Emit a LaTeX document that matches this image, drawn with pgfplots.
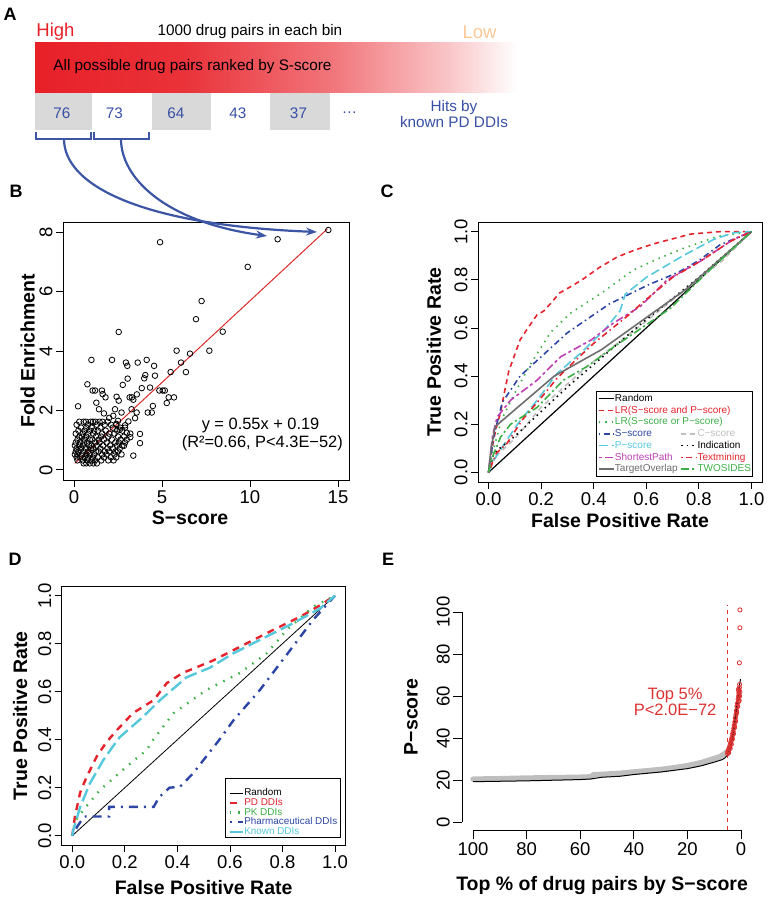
\documentclass[border=0pt]{standalone}
\usepackage{fontspec}
\setmainfont{Liberation Sans}
\usepackage{pgfplots}
\pgfplotsset{compat=1.18}
\usetikzlibrary{arrows.meta}

\definecolor{barred}{RGB}{232,32,40}
\definecolor{lowc}{RGB}{250,200,150}
\definecolor{boxgrey}{RGB}{217,217,217}
\definecolor{numblue}{RGB}{55,80,165}
\definecolor{arrowblue}{RGB}{60,85,165}
\definecolor{linered}{RGB}{220,40,40}
\definecolor{cred}{RGB}{230,35,45}
\definecolor{cgreen}{RGB}{60,175,70}
\definecolor{cblue}{RGB}{45,70,165}
\definecolor{ccyan}{RGB}{85,200,220}
\definecolor{cmag}{RGB}{190,65,180}
\definecolor{cgrey}{RGB}{110,110,110}
\definecolor{clgrey}{RGB}{190,190,190}
\definecolor{ered}{RGB}{220,50,50}

% the path is mapped onto 25bp..75bp of the shading
\pgfdeclarehorizontalshading{redfade}{100bp}{color(0bp)=(barred); color(25bp)=(barred); color(40bp)=(barred!92!white); color(55bp)=(barred!62!white); color(67bp)=(barred!26!white); color(74bp)=(white); color(100bp)=(white)}

\pgfplotsset{
  rstyle/.style={
    scale only axis,
    anchor=south west,
    tick align=outside,
    major tick length=7pt,
    tick style={black,line width=0.8pt},
    axis line style={line width=0.8pt},
    tick label style={font=\fontsize{18.5}{18.5}\selectfont},
    every axis label/.append style={font=\bfseries\fontsize{19.5}{19.5}\selectfont},
    /pgf/number format/assume math mode=true,
    yticklabel style={rotate=90,anchor=south},
  },
  rocstyle/.style={
    xmin=-0.04,xmax=1.04,ymin=-0.04,ymax=1.04,
    xtick={0,0.2,0.4,0.6,0.8,1}, ytick={0,0.2,0.4,0.6,0.8,1},
    /pgf/number format/fixed, /pgf/number format/fixed zerofill,
    /pgf/number format/precision=1,
    xlabel={False Positive Rate}, ylabel={True Positive Rate},
  },
}

\begin{document}
\begin{tikzpicture}
\path[use as bounding box] (0pt,0pt) rectangle (768pt,900pt);

% ---------------- B
\begin{axis}[rstyle, tick pos=left, at={(63pt,420pt)}, width=286pt, height=258pt,
  xmin=-0.625, xmax=15.625, ymin=-0.34, ymax=8.34,
  xtick={0,5,10,15}, ytick={0,2,4,6,8},
  xlabel={S−score}, ylabel={Fold Enrichment},
  xlabel style={at={(axis description cs:0.444,-0.147)},anchor=center},
  ylabel style={at={(axis description cs:-0.124,0.5)},anchor=center}]
\addplot[only marks, mark=o, mark size=2.8pt, mark options={line width=0.8pt}] coordinates {
(4.89,7.66)(11.57,7.76)(14.45,8.07)(9.87,6.83)(7.25,5.68)(6.93,5.07)(8.45,4.65)(2.54,4.64)
(5.83,4.01)(7.69,4.01)(6.59,3.91)(0.99,3.70)(2.16,3.70)(2.95,3.61)(3.03,3.50)(3.62,3.61)
(4.13,3.70)(4.55,3.50)(6.08,3.61)(6.36,3.29)(5.49,3.29)(4.05,3.19)(4.60,3.17)(3.05,3.07)
(3.99,3.08)(2.77,2.86)(0.76,2.88)(1.06,2.67)(1.59,2.67)(1.20,2.67)(3.85,2.75)(4.32,2.77)
(4.85,2.67)(5.04,2.67)(5.16,2.67)(1.63,2.55)(2.42,2.46)(3.16,2.44)(3.29,2.44)(3.57,2.54)
(2.54,2.33)(3.37,2.36)(1.79,2.44)(1.27,2.26)(1.42,2.04)(0.23,2.14)(5.38,2.44)(5.68,2.44)
(5.27,2.25)(4.48,2.15)(4.19,1.93)(4.42,1.93)(2.33,2.04)(3.27,2.04)(3.56,1.93)(2.70,1.93)
(2.23,1.82)(3.47,1.74)(3.09,1.63)(3.75,1.21)(3.75,0.90)(3.37,0.48)(2.84,0.81)
(2.9,1.5)(2.6,1.35)(3.0,1.25)(3.2,1.1)(2.4,1.55)(2.0,1.75)(1.7,1.9)(2.5,1.65)
(0.30,1.62)(0.55,1.62)(0.68,1.62)(0.95,1.62)(1.08,1.62)(1.22,1.62)(1.45,1.62)(1.62,1.62)(1.92,1.62)
(0.15,1.52)(0.80,1.52)(1.30,1.52)(1.75,1.52)(2.10,1.52)(2.40,1.52)
(0.40,1.42)(0.70,1.42)(1.00,1.42)(1.50,1.42)(2.20,1.42)(2.62,1.42)(2.90,1.42)
(0.25,1.32)(0.60,1.32)(0.90,1.32)(1.15,1.32)(1.35,1.32)(1.80,1.32)(2.45,1.32)(2.75,1.32)
(0.10,1.22)(0.50,1.22)(0.80,1.22)(1.10,1.22)(1.60,1.22)(2.00,1.22)(2.30,1.22)(3.20,1.22)
(0.30,1.12)(0.45,1.12)(0.70,1.12)(1.25,1.12)(1.55,1.12)(1.95,1.12)(2.50,1.12)(2.85,1.12)
(0.20,1.02)(0.60,1.02)(0.90,1.02)(1.05,1.02)(1.40,1.02)(1.70,1.02)(2.15,1.02)(2.65,1.02)(3.00,1.02)
(0.10,0.92)(0.35,0.92)(0.55,0.92)(0.75,0.92)(1.20,0.92)(1.45,0.92)(1.85,0.92)(2.35,0.92)(2.55,0.92)(2.90,0.92)
(0.05,0.82)(0.30,0.82)(0.50,0.82)(0.85,0.82)(1.00,0.82)(1.30,0.82)(1.65,0.82)(2.05,0.82)(2.45,0.82)(2.75,0.82)
(0.15,0.72)(0.40,0.72)(0.65,0.72)(0.95,0.72)(1.10,0.72)(1.50,0.72)(1.90,0.72)(2.20,0.72)(2.60,0.72)
(0.10,0.62)(0.25,0.62)(0.55,0.62)(0.80,0.62)(1.25,0.62)(1.40,0.62)(1.75,0.62)(2.00,0.62)(2.35,0.62)(2.50,0.62)
(0.05,0.52)(0.20,0.52)(0.45,0.52)(0.70,0.52)(0.90,0.52)(1.15,0.52)(1.60,0.52)(1.85,0.52)(2.30,0.52)(2.70,0.52)
(0.15,0.42)(0.35,0.42)(0.60,0.42)(0.80,0.42)(1.05,0.42)(1.35,0.42)(1.70,0.42)(2.10,0.42)(2.40,0.42)
(0.20,0.32)(0.50,0.32)(0.75,0.32)(1.00,0.32)(1.20,0.32)(1.55,0.32)(1.95,0.32)(2.25,0.32)
(0.55,0.22)(0.70,0.22)(0.90,0.22)(1.10,0.22)(1.30,0.22)
};
\addplot[linered, line width=1pt] coordinates {(0.05,0.22)(14.4,8.11)};
\node[font=\fontsize{16.4}{16.4}\selectfont] at (axis cs:10.6,1.48) {y = 0.55x + 0.19};
\node[font=\fontsize{16.4}{16.4}\selectfont] at (axis cs:10.7,0.91) {(R²=0.66, P<4.3E−52)};
\end{axis}

% ---------------- C
\begin{axis}[rstyle, rocstyle, tick pos=left, at={(478pt,418pt)}, width=284pt, height=260pt,
  xlabel style={at={(axis description cs:0.5,-0.15)},anchor=center},
  ylabel style={at={(axis description cs:-0.155,0.5)},anchor=center},
  legend image code/.code={\draw[#1] (0pt,0pt) -- (15pt,0pt);},
  legend columns=2, legend cell align=left,
  legend style={at={(0.968,0.02)}, anchor=south east, draw=black, line width=0.8pt,
    font=\fontsize{10}{10}\selectfont, inner xsep=1pt, inner ysep=1.5pt,
    nodes={inner sep=0.6pt, text height=8pt, text depth=2.5pt},
    /tikz/every even column/.append style={column sep=2pt}}]
\addplot[black, line width=1.2pt] coordinates {(0,0)(1,1)};
\addlegendentry{Random}
\addlegendimage{empty legend}\addlegendentry{}
\addplot[cred, line width=1.6pt, dash pattern=on 5pt off 4pt] coordinates {(0,0)(0.01,0.08)(0.027,0.175)(0.046,0.25)(0.06,0.33)(0.077,0.42)(0.1,0.49)(0.12,0.55)(0.15,0.6)(0.185,0.655)(0.21,0.67)(0.235,0.7)(0.27,0.745)(0.31,0.77)(0.356,0.8)(0.42,0.85)(0.49,0.895)(0.56,0.925)(0.63,0.95)(0.7,0.97)(0.77,0.99)(0.88,1)(1,1)};
\addlegendentry{\makebox[0pt][l]{\textcolor{cred}{LR(S−score and P−score)}}}
\addlegendimage{empty legend}\addlegendentry{}
\addplot[cgreen, line width=1.6pt, dash pattern=on 1.5pt off 5pt] coordinates {(0,0)(0.02,0.1)(0.05,0.22)(0.1,0.33)(0.16,0.45)(0.235,0.58)(0.31,0.66)(0.43,0.745)(0.55,0.84)(0.65,0.89)(0.74,0.93)(0.87,0.98)(1,1)};
\addlegendentry{\makebox[0pt][l]{\textcolor{cgreen}{LR(S−score or P−score)}}}
\addlegendimage{empty legend}\addlegendentry{}
\addplot[cblue, line width=1.6pt, dash pattern=on 1.5pt off 3.5pt on 6pt off 3.5pt] coordinates {(0,0)(0.02,0.15)(0.052,0.29)(0.12,0.4)(0.2,0.48)(0.3,0.58)(0.38,0.64)(0.46,0.7)(0.61,0.78)(0.72,0.83)(0.8,0.88)(0.88,0.945)(1,1)};
\addlegendentry{\textcolor{cblue}{S−score}}
\addplot[clgrey, line width=1.6pt, dash pattern=on 5pt off 4pt] coordinates {(0,0)(0.02,0.06)(0.1,0.14)(0.2,0.27)(0.375,0.44)(0.59,0.62)(0.75,0.76)(0.89,0.88)(1,1)};
\addlegendentry{\textcolor{clgrey}{C−score}}
\addplot[ccyan, line width=1.6pt, dash pattern=on 9pt off 4pt] coordinates {(0,0)(0.02,0.05)(0.052,0.105)(0.11,0.2)(0.185,0.3)(0.26,0.41)(0.35,0.495)(0.44,0.59)(0.5,0.67)(0.52,0.74)(0.6,0.81)(0.74,0.9)(0.855,0.967)(0.93,0.995)(1,1)};
\addlegendentry{\textcolor{ccyan}{P−score}}
\addplot[black, line width=1.6pt, dash pattern=on 1.5pt off 4pt] coordinates {(0,0)(0.02,0.08)(0.1,0.15)(0.3,0.355)(0.59,0.626)(0.8,0.81)(1,1)};
\addlegendentry{Indication}
\addplot[cmag, line width=1.6pt, dash pattern=on 3pt off 3pt on 8pt off 3pt] coordinates {(0,0)(0.015,0.15)(0.033,0.23)(0.084,0.3)(0.185,0.383)(0.274,0.48)(0.39,0.55)(0.475,0.62)(0.578,0.69)(0.68,0.8)(0.81,0.88)(0.93,0.967)(1,1)};
\addlegendentry{\textcolor{cmag}{ShortestPath}}
\addplot[cred, line width=1.6pt, dash pattern=on 1.5pt off 3.5pt on 6pt off 3.5pt] coordinates {(0,0)(0.03,0.08)(0.07,0.12)(0.13,0.22)(0.2,0.31)(0.26,0.39)(0.34,0.475)(0.4,0.536)(0.54,0.66)(0.58,0.7)(0.7,0.81)(0.81,0.88)(0.92,0.96)(1,1)};
\addlegendentry{\textcolor{cred}{Textmining}}
\addplot[cgrey, line width=1.6pt] coordinates {(0,0)(0.01,0.1)(0.025,0.19)(0.25,0.4)(0.43,0.51)(0.75,0.76)(1,1)};
\addlegendentry{\textcolor{cgrey}{TargetOverlap}}
\addplot[cgreen, line width=1.6pt, dash pattern=on 8pt off 3pt on 2pt off 3pt] coordinates {(0,0)(0.01,0.05)(0.046,0.147)(0.084,0.2)(0.185,0.27)(0.285,0.383)(0.375,0.44)(0.475,0.52)(0.69,0.68)(0.85,0.85)(1,1)};
\addlegendentry{\textcolor{cgreen}{TWOSIDES}}
\end{axis}

% ---------------- D
\begin{axis}[rstyle, rocstyle, tick pos=left, at={(61.8pt,54.7pt)}, width=283.7pt, height=259.2pt,
  xlabel style={at={(axis description cs:0.5,-0.163)},anchor=center},
  ylabel style={at={(axis description cs:-0.147,0.5)},anchor=center},
  legend image code/.code={\draw[#1] (0pt,0pt) -- (13pt,0pt);},
  legend cell align=left,
  legend style={at={(0.984,0.028)}, anchor=south east, draw=black, line width=0.8pt,
    font=\fontsize{9.9}{9.9}\selectfont, inner xsep=3pt, inner ysep=1pt,
    nodes={inner sep=0.3pt, text height=7pt, text depth=2pt}}]
\addlegendimage{empty legend}\addlegendentry{}
\addplot[black, line width=0.8pt] coordinates {(0,0)(1,1)};
\addlegendentry{Random}
\addplot[cred, line width=2.4pt, dash pattern=on 7pt off 6pt] coordinates {(0,0)(0.01,0.08)(0.03,0.18)(0.055,0.246)(0.093,0.33)(0.13,0.39)(0.17,0.44)(0.23,0.51)(0.31,0.565)(0.36,0.636)(0.42,0.678)(0.536,0.73)(0.638,0.787)(0.764,0.857)(0.867,0.912)(0.943,0.96)(1,1)};
\addlegendentry{\textcolor{cred}{PD DDIs}}
\addplot[cgreen, line width=2.4pt, dash pattern=on 1.5pt off 7pt] coordinates {(0,0)(0.01,0.06)(0.042,0.107)(0.105,0.19)(0.207,0.288)(0.283,0.357)(0.308,0.4)(0.385,0.51)(0.51,0.607)(0.638,0.678)(0.74,0.76)(0.816,0.857)(0.917,0.954)(1,1)};
\addlegendentry{\textcolor{cgreen}{PK DDIs}}
\addplot[cblue, line width=2.4pt, dash pattern=on 2pt off 6pt on 9pt off 6pt] coordinates {(0,0)(0.02,0.04)(0.045,0.08)(0.14,0.08)(0.14,0.12)(0.31,0.12)(0.33,0.16)(0.37,0.2)(0.41,0.204)(0.46,0.26)(0.51,0.33)(0.56,0.4)(0.613,0.48)(0.714,0.607)(0.83,0.774)(0.917,0.9)(1,1)};
\addlegendentry{\textcolor{cblue}{Pharmaceutical DDIs}}
\addplot[ccyan, line width=2.4pt, dash pattern=on 13pt off 5pt] coordinates {(0,0)(0.004,0.024)(0.03,0.12)(0.067,0.218)(0.118,0.315)(0.16,0.38)(0.18,0.41)(0.27,0.496)(0.334,0.565)(0.435,0.66)(0.524,0.7)(0.613,0.76)(0.74,0.83)(0.84,0.885)(0.943,0.947)(1,1)};
\addlegendentry{\textcolor{ccyan}{Known DDIs}}
\end{axis}

% ---------------- E
\begin{axis}[rstyle, at={(462.3pt,69.6pt)}, width=289.4pt, height=226.8pt,
  xmin=-104, xmax=4, ymin=-4, ymax=104,
  xtick={-100,-80,-60,-40,-20,0}, xticklabels={100,80,60,40,20,0},
  ytick={0,20,40,60,80,100},
  axis x line*=bottom, axis y line*=left, axis line style={draw=none},
  major tick length=9pt, clip=false,
  xlabel={Top \% of drug pairs by S−score}, ylabel={P−score},
  xlabel style={at={(axis description cs:0.483,-0.243)},anchor=center},
  ylabel style={at={(axis description cs:-0.177,0.5)},anchor=center}]
\draw[line width=0.8pt] (axis cs:-100,-4) -- (axis cs:0,-4);
\draw[line width=0.8pt] (axis cs:-104,0) -- (axis cs:-104,100);
\addplot[clgrey, line width=5.5pt, line cap=round] coordinates {(-100,20.4)(-90,20.6)(-80,20.9)(-70,21.1)(-60,21.3)(-56,21.5)(-55,22.5)(-50,22.8)(-45,23.2)(-40,23.8)(-35,24.4)(-30,25.0)(-25,25.8)(-20,26.8)(-15,28.2)(-10,30.2)(-8,31.0)(-7,31.8)(-6,32.6)(-5.2,33.5)};
\addplot[ered, line width=1pt, dash pattern=on 4pt off 4pt] coordinates {(-5,-4)(-5,103.5)};
\addplot[ered, line width=3pt] coordinates {(-5,32.5)(-4,35.5)(-3,42)(-2,50)(-1.5,54.5)(-1,59.5)(-0.5,64)};
\addplot[only marks, mark=o, mark size=2.1pt, ered, mark options={line width=0.8pt}] coordinates {
(-5,32.5)(-4.9,33.5)(-4.7,34)(-4.5,35)(-4.3,35.5)(-4.1,36.5)(-3.9,37.5)(-3.7,38.5)(-3.5,39.5)(-3.3,40.5)
(-3.1,42)(-2.9,43)(-2.7,44.5)(-2.5,46)(-2.3,47.5)(-2.1,49.5)(-1.9,51)(-1.7,53)(-1.5,55)(-1.3,56.5)
(-1.1,58.5)(-0.9,60)(-0.8,61.5)(-0.7,62.5)(-0.6,64)(-0.5,65.5)(-4.6,33)(-4,35)(-3.6,37)(-3.2,39.5)
(-2.8,42)(-2.4,45)(-2,48)(-1.6,52)(-1.2,55)(-0.8,57.5)(-0.5,60)(-1,63)(-0.7,58)(-0.4,62)
(-0.6,75.8)(-0.4,92.5)(-0.4,101)};
\addplot[black, line width=1pt] coordinates {(-100,19.2)(-80,19.6)(-60,20.2)(-56,20.5)(-52,21.3)(-45,21.8)(-40,22.6)(-30,23.8)(-20,25.4)(-15,26.7)(-10,28.5)(-7,29.7)(-6,30.5)(-5,32)(-4,35)(-3.5,38)(-3,41.5)(-2.5,46)(-2,51)(-1.5,56)(-1,61)(-0.6,64.5)(-0.2,68)};
\node[ered, font=\fontsize{16.5}{16.5}\selectfont, align=center] at (axis cs:-24.6,57.2) {Top 5\%\\[0pt]P<2.0E−72};
\end{axis}

% ---------------- A and annotations (pixel coordinates, y down)
\begin{scope}[x=1pt, y=-1pt, shift={(0pt,900pt)}]
\shade[shading=redfade] (35,43) rectangle (527,93);
\fill[boxgrey] (35,93) rectangle (92,130);
\fill[boxgrey] (152,93) rectangle (211,130);
\fill[boxgrey] (270,93) rectangle (330,130);
\begin{scope}[font=\fontsize{15.3}{15.3}\selectfont]
\node[text=barred, font=\fontsize{18.5}{18.5}\selectfont] at (55.5,32) {High};
\node at (250,32) {1000 drug pairs in each bin};
\node[text=lowc, font=\fontsize{18.5}{18.5}\selectfont] at (479.5,32) {Low};
\node at (192.5,67) {All possible drug pairs ranked by S-score};
\node[text=numblue] at (62,113) {76};
\node[text=numblue] at (114.5,113) {73};
\node[text=numblue] at (176,113) {64};
\node[text=numblue] at (238,113) {43};
\node[text=numblue] at (298.5,113) {37};
\node[text=numblue] at (349.5,113) {…};
\node[text=numblue, align=center] at (454,114) {Hits by\\known PD DDIs};
\end{scope}
\draw[arrowblue, line width=2pt] (36,132) -- (36,139) -- (91,139) -- (91,132);
\draw[arrowblue, line width=2pt] (94,132) -- (94,139) -- (149,139) -- (149,132);
\draw[arrowblue, line width=2.2pt, -{Stealth[length=11pt,width=8pt]}] (64,139) .. controls (64,185) and (140,225) .. (317,232);
\draw[arrowblue, line width=2.2pt, -{Stealth[length=11pt,width=8pt]}] (121,139) .. controls (121,178) and (165,222) .. (267,236);
\begin{scope}[font=\bfseries\fontsize{18}{18}\selectfont]
\node at (10,14) {A};
\node at (16,191) {B};
\node at (387,191) {C};
\node at (15,559) {D};
\node at (388,559) {E};
\end{scope}
\end{scope}
\end{tikzpicture}
\end{document}
